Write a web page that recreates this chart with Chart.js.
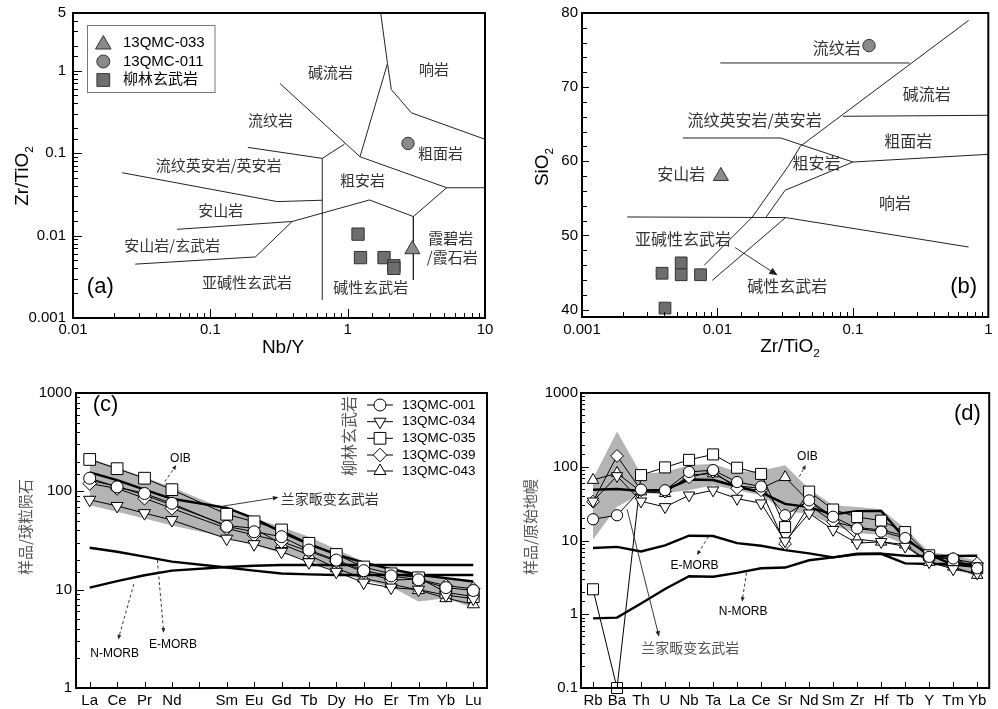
<!DOCTYPE html>
<html>
<head>
<meta charset="utf-8">
<script src="https://cdn.jsdelivr.net/npm/chart.js@4.4.1/dist/chart.umd.min.js"></script>
<style>
  body { margin: 0; background: #fff; width: 998px; height: 709px; position: relative; overflow: hidden; }
  canvas { position: absolute; }
</style>
</head>
<body>
<canvas id="ca" width="500" height="360" style="left:0;top:0"></canvas>
<canvas id="cb" width="498" height="360" style="left:500px;top:0"></canvas>
<canvas id="cc" width="500" height="329" style="left:0;top:380px"></canvas>
<canvas id="cd" width="498" height="329" style="left:500px;top:380px"></canvas>
<script>
// ---- (a) Nb/Y vs Zr/TiO2 ----
const a033 = [[2.96, 0.0068]];
const a011 = [[2.75, 0.131]];
const aLiulin = [[1.19, 0.0104], [1.24, 0.0054], [1.84, 0.0054], [2.17, 0.0043], [2.17, 0.0040]];
const aBounds = [
  [[1.74, 5], [1.95, 1.22], [2.08, 0.59], [2.91, 0.308], [10, 0.147]],
  [[0.321, 0.699], [1.23, 0.0903]],
  [[1.23, 0.0903], [1.95, 1.22]],
  [[1.23, 0.0903], [5.26, 0.038], [10, 0.038]],
  [[5.26, 0.038], [3.01, 0.017], [3.01, 0.0029]],
  [[3.01, 0.017], [1.44, 0.027], [0.394, 0.0148], [0.213, 0.0055], [0.0284, 0.0045]],
  [[0.394, 0.0148], [0.0573, 0.0119]],
  [[0.653, 0.00166], [0.653, 0.0863], [0.949, 0.1286]],
  [[0.653, 0.0863], [0.1876, 0.1173]],
  [[0.0228, 0.0578], [0.307, 0.0258], [0.653, 0.0268]]
];

// ---- (b) Zr/TiO2 vs SiO2 ----
const b011 = [[0.1316, 75.6]];
const b033 = [[0.0106, 58.0]];
const bLiulin = [[0.0039, 44.9], [0.0054, 46.3], [0.0054, 44.7], [0.0075, 44.7], [0.0041, 40.2]];
const bBounds = [
  [[0.0105, 73.26], [0.263, 73.26]],
  [[0.00798, 45.97], [0.0181, 52.49], [0.0337, 59.46], [0.0409, 62.02], [0.715, 79.0]],
  [[0.0844, 66.07], [1, 66.2]],
  [[0.00556, 63.14], [0.0294, 63.14], [0.1, 59.9]],
  [[0.1, 59.9], [1, 60.94]],
  [[0.0229, 52.49], [0.0316, 56.09], [0.1, 59.9]],
  [[0.00216, 52.49], [0.0319, 52.41], [0.715, 48.44]],
  [[0.00917, 43.95], [0.0319, 52.41]]
];

// ---- (c) chondrite-normalised REE ----
const reeTicks = ['La', 'Ce', 'Pr', 'Nd', 'Pm', 'Sm', 'Eu', 'Gd', 'Tb', 'Dy', 'Ho', 'Er', 'Tm', 'Yb', 'Lu'];
const reeElems = ['La', 'Ce', 'Pr', 'Nd', 'Sm', 'Eu', 'Gd', 'Tb', 'Dy', 'Ho', 'Er', 'Tm', 'Yb', 'Lu'];
const ree001 = [136, 111, 95, 75.5, 44, 38.8, 34.6, 25.3, 20.0, 15.6, 13.8, 12.6, 10.5, 9.8];
const ree034 = [82, 71, 60, 51, 33, 29, 24.3, 19.0, 15.2, 11.8, 10.5, 10.0, 8.8, 8.1];
const ree035 = [211, 170, 136, 104, 58.5, 49, 40.5, 29.6, 22.8, 17.0, 14.5, 13.2, 9.4, 8.5];
const ree039 = [120, 107, 85, 67, 42, 35.9, 30.8, 24.5, 19.5, 15.1, 12.5, 12.8, 11.0, 10.2];
const ree043 = [130, 112, 91.6, 72.6, 45, 42, 29.1, 22.5, 16.5, 13.0, 11.4, 9.9, 8.2, 7.1];
const reeOIB = [156, 130, 104, 84, 68, 53, 38.5, 29, 22.8, 18.8, 16.2, 14.2, 13.1, 12.1];
const reeEMORB = [26.7, 24.3, 21.7, 19.3, 16.8, 15.6, 14.6, 14.3, 14.1, 14.1, 14.1, 14.1, 14.1, 14.1];
const reeNMORB = [10.5, 12.2, 14, 15.6, 17, 17.5, 17.8, 17.8, 17.8, 17.8, 17.8, 17.8, 17.8, 17.8];
const reeBandHi = [217, 175, 139, 110, 65, 53, 43.7, 34.6, 25.7, 19.3, 16.5, 14.7, 13.3, 12];
const reeBandLo = [72, 62, 53, 45, 34, 28.5, 23.4, 20, 15.2, 12.5, 10.7, 7.6, 8.2, 6.5];

// ---- (d) primitive-mantle-normalised trace elements ----
const spElems = ['Rb', 'Ba', 'Th', 'U', 'Nb', 'Ta', 'La', 'Ce', 'Sr', 'Nd', 'Sm', 'Zr', 'Hf', 'Tb', 'Y', 'Tm', 'Yb'];
const sp001 = [19.4, 22, 49, 48, 85, 90, 62, 54, 22, 35, 21, 14.6, 13.2, 10.8, 6.0, 5.7, 4.2];
const sp034 = [34, 75, 34, 28.5, 41, 48, 37, 32, 9.8, 23.4, 14, 9.2, 9.6, 8.3, 5.1, 4.1, 3.6];
const sp035 = [2.18, 0.1, 77, 98, 124, 147, 97, 80, 15.2, 46, 26.3, 20.8, 18.6, 13, 6.3, 5.4, 4.2];
const sp039 = [33.6, 140, 48, 46, 72, 86, 51, 48, 9.0, 30, 18, 15, 13.9, 11.6, 5.9, 5.6, 4.9];
const sp043 = [66, 82, 46, 43.6, 77, 81, 55, 51, 72, 33.7, 20, 10.4, 9.6, 8.8, 5.1, 4.4, 3.4];
const spOIB = [48.8, 50, 47, 48.6, 67, 66, 54, 45, 31.3, 28.4, 22.5, 25, 25.2, 10.5, 6.4, 4.7, 4.4];
const spEMORB = [7.9, 8.2, 7.1, 8.6, 11.6, 11.5, 9.2, 8.5, 7.4, 6.7, 5.9, 6.5, 6.6, 4.9, 4.8, 4.8, 4.8];
const spNMORB = [0.88, 0.9, 1.4, 2.2, 3.27, 3.22, 3.64, 4.2, 4.3, 5.4, 5.9, 6.6, 6.6, 6.2, 6.15, 6.16, 6.2];
const spBandHi = [69, 300, 80, 85, 105, 110, 85, 88, 105, 50, 30, 28.5, 26.5, 14.5, 7, 6.3, 5.3];
const spBandLo = [10.2, 28.7, 43, 44, 48, 56, 48, 41, 25, 23, 16, 12.5, 12, 8.8, 5.1, 4.0, 3.3];

const sampleNames = ['13QMC-001', '13QMC-034', '13QMC-035', '13QMC-039', '13QMC-043'];

// ---------- helpers ----------
const LAT = "'Liberation Sans', Arial, 'Noto Sans CJK SC', sans-serif";
const CJK = "'Noto Sans CJK SC', 'Liberation Sans', sans-serif";
const markStyles = [
  { pointStyle: 'circle', r: 6, rot: 0 },
  { pointStyle: 'triangle', r: 7, rot: 180 },
  { pointStyle: 'rect', r: 8.3, rot: 0 },
  { pointStyle: 'rectRot', r: 6.8, rot: 0 },
  { pointStyle: 'triangle', r: 7, rot: 0 }
];

function isDecade(v) { const e = Math.log10(v); return Math.abs(e - Math.round(e)) < 1e-6; }
function decadeLabel(v) { return isDecade(v) ? String(+Number(v).toPrecision(3)) : ''; }
function pts(arr) { return arr.map(p => ({ x: p[0], y: p[1] })); }
function catPts(labels, vals) { return vals.map((v, i) => ({ x: labels[i], y: v })); }
function fixAxis(size) {
  return s => {
    if (s.isHorizontal()) s.height = size; else s.width = size;
    s.paddingLeft = s.paddingRight = s.paddingTop = s.paddingBottom = 0;
  };
}

function drawMarker(ctx, style, x, y, r, rot) {
  ctx.beginPath();
  if (style === 'circle') ctx.arc(x, y, r, 0, 2 * Math.PI);
  else if (style === 'rect') { const s = r * Math.SQRT1_2; ctx.rect(x - s, y - s, 2 * s, 2 * s); }
  else if (style === 'rectRot') { ctx.moveTo(x, y - r); ctx.lineTo(x + r, y); ctx.lineTo(x, y + r); ctx.lineTo(x - r, y); ctx.closePath(); }
  else {
    let ang = (rot || 0) * Math.PI / 180;
    for (let k = 0; k < 3; k++) {
      const px = x + Math.sin(ang) * r, py = y - Math.cos(ang) * r;
      if (k) ctx.lineTo(px, py); else ctx.moveTo(px, py);
      ang += 2 * Math.PI / 3;
    }
    ctx.closePath();
  }
  ctx.fill(); ctx.stroke();
}

function subTitle(ctx, parts, cx, cy, size, rot) {
  ctx.save();
  ctx.translate(cx, cy);
  if (rot) ctx.rotate(rot);
  ctx.fillStyle = '#000';
  ctx.textBaseline = 'middle';
  ctx.textAlign = 'left';
  let w = 0;
  parts.forEach(p => { ctx.font = (p[1] ? size * 0.62 : size) + 'px ' + LAT; w += ctx.measureText(p[0]).width; });
  let x = -w / 2;
  parts.forEach(p => {
    ctx.font = (p[1] ? size * 0.62 : size) + 'px ' + LAT;
    ctx.fillText(p[0], x, p[1] ? size * 0.38 : 0);
    x += ctx.measureText(p[0]).width;
  });
  ctx.restore();
}

function arrow(ctx, x1, y1, x2, y2, dashed, head) {
  ctx.save();
  ctx.strokeStyle = '#222'; ctx.fillStyle = '#222'; ctx.lineWidth = 0.9;
  if (dashed) ctx.setLineDash([3, 2.5]);
  const ang = Math.atan2(y2 - y1, x2 - x1);
  ctx.beginPath(); ctx.moveTo(x1, y1); ctx.lineTo(x2 - Math.cos(ang) * head * 0.7, y2 - Math.sin(ang) * head * 0.7); ctx.stroke();
  ctx.setLineDash([]);
  ctx.beginPath();
  ctx.moveTo(x2, y2);
  ctx.lineTo(x2 - head * Math.cos(ang - 0.4), y2 - head * Math.sin(ang - 0.4));
  ctx.lineTo(x2 - head * Math.cos(ang + 0.4), y2 - head * Math.sin(ang + 0.4));
  ctx.closePath(); ctx.fill();
  ctx.restore();
}

// frame, inward ticks, annotations
function decor(cfg) {
  return {
    id: 'decor',
    afterDatasetsDraw(chart) {
      const ctx = chart.ctx, a = chart.chartArea, xs = chart.scales.x, ys = chart.scales.y;
      ctx.save();
      ctx.strokeStyle = '#000'; ctx.lineWidth = 1;
      ctx.beginPath();
      xs.ticks.forEach(t => {
        if (t.value < xs.min - 1e-9 || t.value > xs.max + 1e-9) return;
        const p = Math.round(xs.getPixelForValue(t.value)) + 0.5;
        const len = cfg.xMajor(t.value) ? cfg.xLen[0] : cfg.xLen[1];
        ctx.moveTo(p, a.bottom); ctx.lineTo(p, a.bottom - len);
      });
      ys.ticks.forEach(t => {
        if (t.value < ys.min - 1e-9 || t.value > ys.max + 1e-9) return;
        const p = Math.round(ys.getPixelForValue(t.value)) + 0.5;
        const len = cfg.yMajor(t.value) ? cfg.yLen[0] : cfg.yLen[1];
        ctx.moveTo(a.left, p); ctx.lineTo(a.left + len, p);
      });
      ctx.stroke();
      ctx.lineWidth = 2;
      ctx.strokeRect(a.left, a.top, a.right - a.left, a.bottom - a.top);

      (cfg.arrows || []).forEach(r => {
        arrow(ctx, xs.getPixelForValue(r[0]), ys.getPixelForValue(r[1]),
          xs.getPixelForValue(r[2]), ys.getPixelForValue(r[3]), r[4], r[5]);
      });
      ctx.textAlign = 'center'; ctx.textBaseline = 'middle';
      (cfg.texts || []).forEach(t => {
        ctx.font = t[3] + 'px ' + (t[5] ? LAT : CJK);
        ctx.fillStyle = t[4];
        ctx.fillText(t[0], xs.getPixelForValue(t[1]), ys.getPixelForValue(t[2]));
      });
      (cfg.titles || []).forEach(t => subTitle(ctx, t.parts, t.x, t.y, t.size, t.rot));
      if (cfg.extra) cfg.extra(ctx, a);
      ctx.restore();
    }
  };
}

function baseOptions(pad, xAxis, yAxis) {
  return {
    responsive: false, animation: false, devicePixelRatio: 1, events: [],
    layout: { padding: pad },
    plugins: { legend: { display: false }, tooltip: { enabled: false } },
    scales: { x: xAxis, y: yAxis }
  };
}
function axis(type, extra) {
  return Object.assign({
    type,
    grid: { display: false, drawTicks: false, tickLength: 0 },
    border: { display: false },
    ticks: { font: { family: LAT, size: 15 }, color: '#000', maxRotation: 0, minRotation: 0, autoSkip: false }
  }, extra);
}
function lineDs(arr) {
  return { data: pts(arr), showLine: true, borderColor: '#222', borderWidth: 1, pointRadius: 0, fill: false, order: 5 };
}
function greyPt(arr, style, r, fill) {
  return { data: pts(arr), pointStyle: style, pointRadius: r, pointBackgroundColor: fill, pointBorderColor: '#333',
    pointBorderWidth: 1, showLine: false, clip: false, order: 0 };
}

// ---------- (a) ----------
const aTexts = [
  ['碱流岩', 0.75, 0.966], ['响岩', 4.25, 1.03], ['流纹岩', 0.274, 0.251], ['粗面岩', 4.75, 0.0993],
  ['流纹英安岩/英安岩', 0.115, 0.0716], ['粗安岩', 1.28, 0.0472], ['安山岩', 0.119, 0.020],
  ['安山岩/玄武岩', 0.0528, 0.0077], ['霞碧岩', 5.62, 0.0093], ['/霞石岩', 5.78, 0.0054],
  ['亚碱性玄武岩', 0.185, 0.00269], ['碱性玄武岩', 1.47, 0.00237]
].map(t => [t[0], t[1], t[2], 15, '#333']);
aTexts.push(['(a)', 0.0158, 0.00241, 22, '#000', true]);

new Chart(document.getElementById('ca'), {
  type: 'scatter',
  data: { datasets: [
    greyPt(a033, 'triangle', 8.7, '#8a8a8a'),
    greyPt(a011, 'circle', 6.2, '#8a8a8a'),
    greyPt(aLiulin, 'rect', 8.7, '#6e6e6e'),
    ...aBounds.map(lineDs)
  ] },
  options: baseOptions({ left: 0, top: 13, right: 15, bottom: 0 },
    axis('logarithmic', { min: 0.01, max: 10, afterFit: fixAxis(42),
      ticks: { font: { family: LAT, size: 15 }, color: '#000', padding: 3, maxRotation: 0, minRotation: 0, autoSkip: false, callback: v => decadeLabel(v) } }),
    axis('logarithmic', { min: 0.001, max: 5, afterFit: fixAxis(73),
      ticks: { font: { family: LAT, size: 15 }, color: '#000', padding: 7, autoSkip: false, callback: v => (Math.abs(v - 5) < 1e-9 ? '5' : decadeLabel(v)) } })),
  plugins: [decor({
    xMajor: isDecade, yMajor: isDecade, xLen: [9, 5], yLen: [9, 5],
    texts: aTexts,
    titles: [
      { parts: [['Zr/TiO'], ['2', 1]], x: 23, y: 176, size: 19, rot: -Math.PI / 2 },
      { parts: [['Nb/Y']], x: 283, y: 348, size: 19 }
    ],
    extra(ctx) {
      ctx.lineWidth = 1; ctx.strokeStyle = '#777';
      ctx.strokeRect(87.5, 25.5, 127.5, 67);
      const rows = [['triangle', 9, '#8a8a8a', '13QMC-033', 44.5], ['circle', 6.5, '#8a8a8a', '13QMC-011', 61.5], ['rect', 9, '#6e6e6e', '柳林玄武岩', 80]];
      rows.forEach(r => {
        ctx.fillStyle = r[2]; ctx.strokeStyle = '#333';
        drawMarker(ctx, r[0], 103.3, r[4], r[1], 0);
        ctx.fillStyle = '#000'; ctx.font = '15px ' + LAT; ctx.textAlign = 'left'; ctx.textBaseline = 'middle';
        ctx.fillText(r[3], 123, r[0] === 'triangle' ? 43 : r[4]);
      });
    }
  })]
});

// ---------- (b) ----------
const bTexts = [
  ['流纹岩', 0.0759, 75.33], ['碱流岩', 0.351, 69.13], ['流纹英安岩/英安岩', 0.0188, 65.62],
  ['粗面岩', 0.256, 62.74], ['粗安岩', 0.054, 59.77], ['安山岩', 0.0054, 58.34], ['响岩', 0.205, 54.38],
  ['亚碱性玄武岩', 0.00556, 49.58], ['碱性玄武岩', 0.0328, 43.18]
].map(t => [t[0], t[1], t[2], 16, '#333']);
bTexts.push(['(b)', 0.658, 43.05, 22, '#000', true]);

new Chart(document.getElementById('cb'), {
  type: 'scatter',
  data: { datasets: [
    greyPt(b011, 'circle', 6.2, '#8a8a8a'),
    greyPt(b033, 'triangle', 8.7, '#8a8a8a'),
    greyPt(bLiulin, 'rect', 8.3, '#6e6e6e'),
    ...bBounds.map(lineDs)
  ] },
  options: baseOptions({ left: 0, top: 13, right: 1, bottom: 0 },
    axis('logarithmic', { min: 0.001, max: 1, afterFit: fixAxis(43),
      ticks: { font: { family: LAT, size: 15 }, color: '#000', padding: 4, maxRotation: 0, minRotation: 0, autoSkip: false, callback: v => decadeLabel(v) } }),
    axis('linear', { min: 39, max: 80, afterFit: fixAxis(82),
      afterBuildTicks: s => { s.ticks = []; for (let v = 40; v <= 80; v += 2) s.ticks.push({ value: v }); },
      ticks: { font: { family: LAT, size: 15 }, color: '#000', padding: 4, autoSkip: false, callback: v => (v % 10 === 0 ? String(v) : '') } })),
  plugins: [decor({
    xMajor: isDecade, yMajor: v => v % 10 === 0, xLen: [9, 5], yLen: [7, 5],
    texts: bTexts,
    arrows: [[0.0135, 48.36, 0.0278, 44.63, false, 9]],
    titles: [
      { parts: [['SiO'], ['2', 1]], x: 43, y: 167, size: 19, rot: -Math.PI / 2 },
      { parts: [['Zr/TiO'], ['2', 1]], x: 290, y: 347, size: 19 }
    ]
  })]
});

// ---------- shared for (c) and (d) ----------
function sampleDs(i, labels, vals, r) {
  const st = markStyles[i];
  return { label: sampleNames[i], data: catPts(labels, vals), borderColor: '#000', borderWidth: 1,
    pointStyle: st.pointStyle, pointRadius: r ? r[i] : st.r, rotation: st.rot, pointBackgroundColor: '#fff',
    pointBorderColor: '#000', pointBorderWidth: 1, clip: false, order: 0 };
}
function refDs(labels, vals) {
  return { data: catPts(labels, vals), borderColor: '#000', borderWidth: 2.4, pointRadius: 0, fill: false, order: 5 };
}
function bandDs(labels, vals, fill) {
  return { data: catPts(labels, vals), borderColor: 'rgba(0,0,0,0)', borderWidth: 0, pointRadius: 0,
    backgroundColor: '#b4b4b4', fill: fill, order: 10 };
}

// ---------- (c) ----------
const cTexts = [
  ['OIB', 3.31, 217, 12, '#000', true], ['兰家畈变玄武岩', 8.76, 85, 14, '#333'],
  ['N-MORB', 0.91, 2.25, 12, '#000', true], ['E-MORB', 3.04, 2.73, 12, '#000', true],
  ['(c)', 0.58, 755, 22, '#000', true]
];
const cSeries = [ree001, ree034, ree035, ree039, ree043];

new Chart(document.getElementById('cc'), {
  type: 'line',
  data: { labels: reeTicks, datasets: [
    ...cSeries.map((v, i) => sampleDs(i, reeElems, v)),
    refDs(reeElems, reeOIB), refDs(reeElems, reeEMORB), refDs(reeElems, reeNMORB),
    bandDs(reeElems, reeBandHi, '+1'), bandDs(reeElems, reeBandLo, false)
  ] },
  options: baseOptions({ left: 0, top: 13, right: 13, bottom: 0 },
    axis('category', { offset: true, afterFit: fixAxis(21),
      ticks: { font: { family: LAT, size: 15 }, color: '#000', padding: 4, maxRotation: 0, minRotation: 0, autoSkip: false,
        callback: function (v) { const l = this.getLabelForValue(v); return l === 'Pm' ? '' : l; } } }),
    axis('logarithmic', { min: 1, max: 1000, afterFit: fixAxis(76),
      ticks: { font: { family: LAT, size: 15 }, color: '#000', padding: 4, autoSkip: false, callback: v => decadeLabel(v) } })),
  plugins: [decor({
    xMajor: () => true, yMajor: isDecade, xLen: [6, 6], yLen: [8, 4],
    texts: cTexts,
    arrows: [
      [2.74, 125, 3.16, 185, true, 5], [4.87, 70.8, 6.89, 86.9, false, 6],
      [1.61, 11.4, 1.04, 3.12, true, 5], [2.47, 20, 2.70, 3.65, true, 5]
    ],
    extra(ctx) {
      ctx.save();
      ctx.translate(348.5, 56); ctx.rotate(-Math.PI / 2);
      ctx.font = '16px ' + CJK; ctx.fillStyle = '#555'; ctx.textAlign = 'center'; ctx.textBaseline = 'middle';
      ctx.fillText('柳林玄武岩', 0, 0);
      ctx.restore();
      ctx.save();
      ctx.translate(25, 147); ctx.rotate(-Math.PI / 2);
      ctx.font = '15px ' + CJK; ctx.fillStyle = '#555'; ctx.textAlign = 'center'; ctx.textBaseline = 'middle';
      ctx.fillText('样品/球粒陨石', 0, 0);
      ctx.restore();
      const rowsY = [25, 41.7, 58.3, 75, 91];
      markStyles.forEach((st, i) => {
        const y = rowsY[i];
        ctx.strokeStyle = '#000'; ctx.lineWidth = 1;
        ctx.beginPath(); ctx.moveTo(367, y); ctx.lineTo(393, y); ctx.stroke();
        ctx.fillStyle = '#fff';
        drawMarker(ctx, st.pointStyle, 380, y, st.r, st.rot);
        ctx.fillStyle = '#000'; ctx.font = '13.5px ' + LAT; ctx.textAlign = 'left'; ctx.textBaseline = 'middle';
        ctx.fillText(sampleNames[i], 402, y);
      });
    }
  })]
});

// ---------- (d) ----------
const dTexts = [
  ['(d)', 15.59, 519, 22, '#000', true], ['OIB', 8.93, 137, 12, '#000', true],
  ['E-MORB', 4.23, 4.51, 12, '#000', true], ['N-MORB', 6.25, 1.08, 12, '#000', true],
  ['兰家畈变玄武岩', 4.05, 0.356, 14, '#555']
];
const dSeries = [sp001, sp034, sp035, sp039, sp043];

new Chart(document.getElementById('cd'), {
  type: 'line',
  data: { labels: spElems, datasets: [
    ...dSeries.map((v, i) => sampleDs(i, spElems, v, [5.6, 6.6, 7.8, 6.4, 6.6])),
    refDs(spElems, spOIB), refDs(spElems, spEMORB), refDs(spElems, spNMORB),
    bandDs(spElems, spBandHi, '+1'), bandDs(spElems, spBandLo, false)
  ] },
  options: baseOptions({ left: 0, top: 13, right: 4, bottom: 0 },
    axis('category', { offset: true, afterFit: fixAxis(21),
      ticks: { font: { family: LAT, size: 15 }, color: '#000', padding: 4, maxRotation: 0, minRotation: 0, autoSkip: false } }),
    axis('logarithmic', { min: 0.1, max: 1000, afterFit: fixAxis(81),
      ticks: { font: { family: LAT, size: 15 }, color: '#000', padding: 3, autoSkip: false, callback: v => decadeLabel(v) } })),
  plugins: [decor({
    xMajor: () => true, yMajor: isDecade, xLen: [6, 6], yLen: [8, 4],
    texts: dTexts,
    arrows: [
      [8.59, 73.3, 8.86, 106, true, 5], [4.81, 11.3, 4.33, 6.35, true, 5],
      [6.39, 3.66, 6.21, 1.48, true, 5], [1.42, 26.5, 2.75, 0.497, false, 6]
    ],
    extra(ctx) {
      ctx.save();
      ctx.translate(30, 147); ctx.rotate(-Math.PI / 2);
      ctx.font = '15px ' + CJK; ctx.fillStyle = '#555'; ctx.textAlign = 'center'; ctx.textBaseline = 'middle';
      ctx.fillText('样品/原始地幔', 0, 0);
      ctx.restore();
    }
  })]
});
</script>
</body>
</html>
